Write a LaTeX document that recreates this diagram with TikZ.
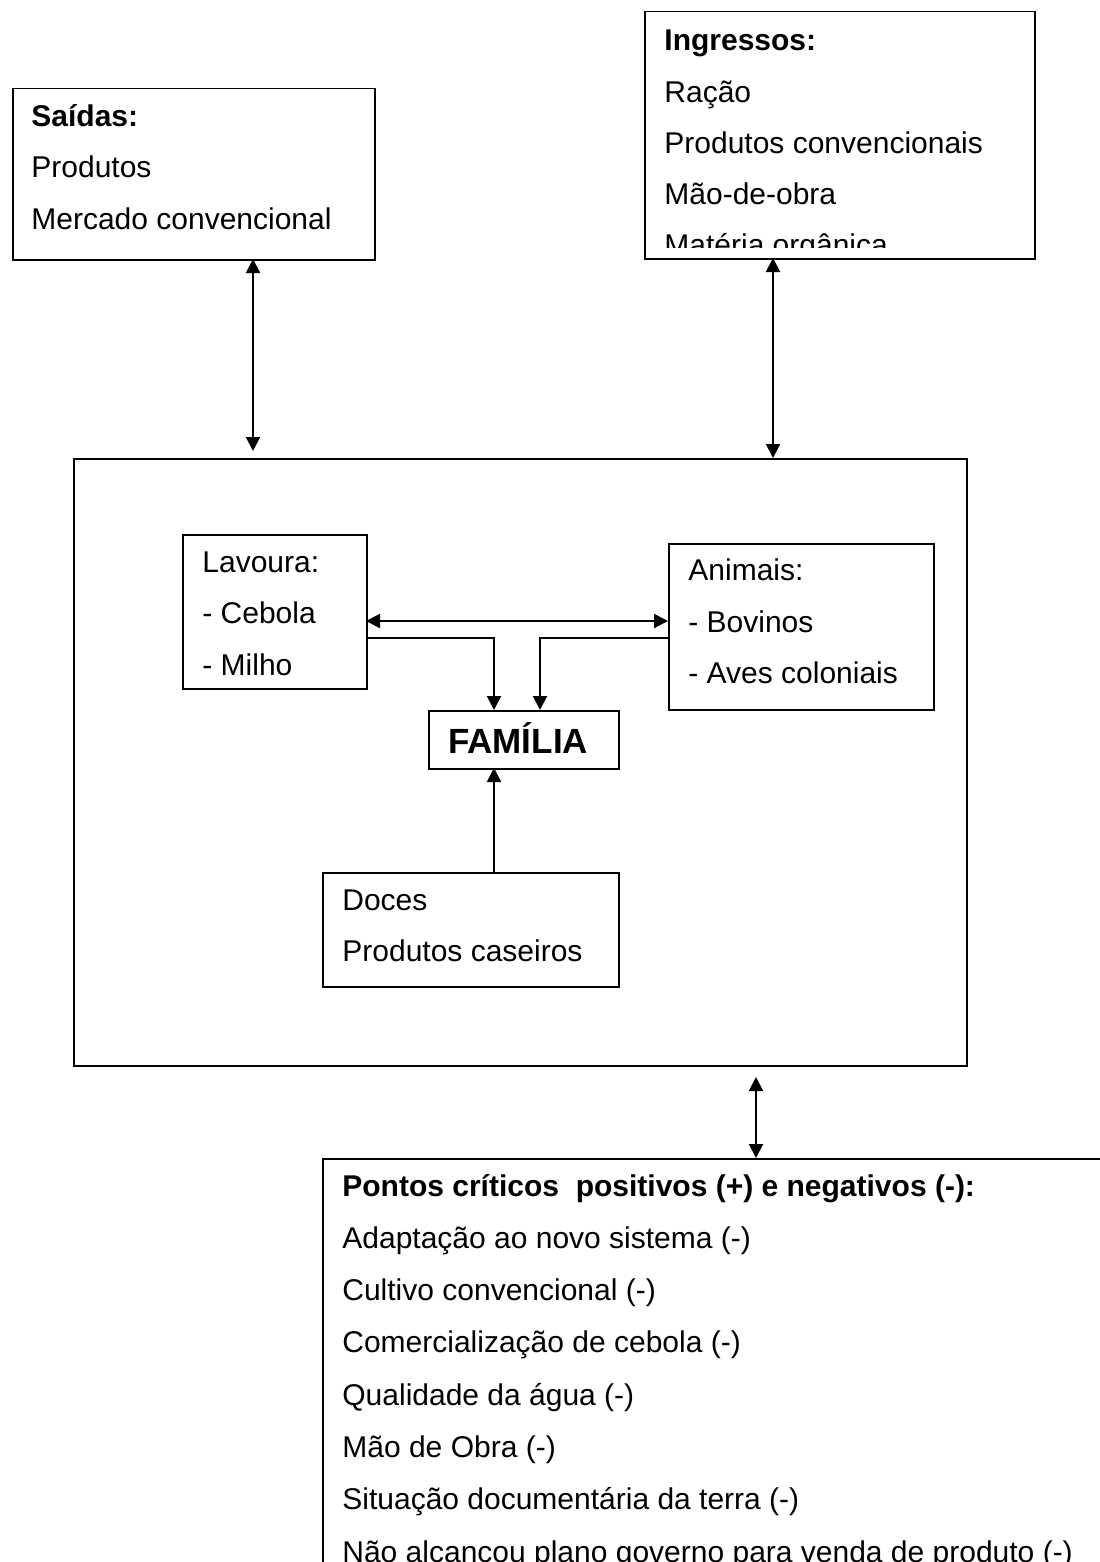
\documentclass[tikz,border=0pt]{standalone}
\usepackage{fontspec}
\setmainfont{Liberation Sans}
\usetikzlibrary{arrows.meta}
\begin{document}
\begin{tikzpicture}[x=0.5pt,y=-0.5pt,
  box/.style={draw,line width=0.75pt,rectangle,inner sep=0pt,anchor=north west},
  txt/.style={anchor=base west,inner sep=0pt,font=\fontsize{15pt}{18pt}\selectfont},
  hd/.style={anchor=base west,inner sep=0pt,font=\fontsize{15pt}{18pt}\selectfont\bfseries},
  tip/.tip={Triangle[length=7pt,width=7pt]},
  link/.style={line width=1pt,-tip},
  dlink/.style={line width=1pt,tip-tip}]
\useasboundingbox (0,0) rectangle (1099,1562);

% --- frames ---
\node[box,minimum width=181pt,minimum height=85.5pt] (saidas) at (12,88) {};
\node[box,minimum width=195pt,minimum height=123.5pt] (ingressos) at (644,11) {};
\node[box,minimum width=446.5pt,minimum height=303.5pt] (sistema) at (73,458) {};
\node[box,minimum width=92pt,minimum height=77pt] (lavoura) at (182,534) {};
\node[box,minimum width=132.5pt,minimum height=83pt] (animais) at (668,543) {};
\node[box,minimum width=95pt,minimum height=29pt] (familia) at (428,710) {};
\node[box,minimum width=148pt,minimum height=57pt] (doces) at (322,872) {};
\node[box,minimum width=420pt,minimum height=230pt] (pontos) at (322,1158) {};

% --- texts ---
\node[hd]  (s0) at (31,127) {Saídas:};
\node[txt] (s1) at (31,178) {Produtos};
\node[txt] (s2) at (31,229) {Mercado convencional};

\begin{scope}
  \clip (644,11) rectangle (1034,248);
  \node[hd]  (i0) at (664,51)  {Ingressos:};
  \node[txt] (i1) at (664,103) {Ração};
  \node[txt] (i2) at (664,154) {Produtos convencionais};
  \node[txt] (i3) at (664,205) {Mão-de-obra};
  \node[txt] (i4) at (664,256) {Matéria orgânica};
\end{scope}

\node[txt] (l0) at (202,572) {Lavoura:};
\node[txt] (l1) at (202,623) {- Cebola};
\node[txt] (l2) at (202,675) {- Milho};

\node[txt] (a0) at (688,580) {Animais:};
\node[txt] (a1) at (688,632) {- Bovinos};
\node[txt] (a2) at (688,683) {- Aves coloniais};

\node[anchor=base,inner sep=0pt,font=\fontsize{17.5pt}{21pt}\selectfont\bfseries]
  (f0) at (518,753) {FAMÍLIA};

\node[txt] (d0) at (342,910) {Doces};
\node[txt] (d1) at (342,961) {Produtos caseiros};

\begin{scope}
  \clip (322,1158) rectangle (1099,1562);
  \node[hd]  (p0) at (342,1196) {Pontos críticos\ \ positivos (+) e negativos (-):};
  \node[txt] (p1) at (342,1248) {Adaptação ao novo sistema (-)};
  \node[txt] (p2) at (342,1300) {Cultivo convencional (-)};
  \node[txt] (p3) at (342,1352) {Comercialização de cebola (-)};
  \node[txt] (p4) at (342,1405) {Qualidade da água (-)};
  \node[txt] (p5) at (342,1457) {Mão de Obra (-)};
  \node[txt] (p6) at (342,1509) {Situação documentária da terra (-)};
  \node[txt] (p7) at (342,1562) {Não alcançou plano governo para venda de produto (-)};
\end{scope}

% --- connector end points ---
\coordinate (sa) at (253,259);
\coordinate (sb) at (253,451);
\coordinate (ia) at (773,258);
\coordinate (ib) at (773,458);
\coordinate (pa) at (756,1077);
\coordinate (pb) at (756,1158);
\coordinate (la) at (366,621);
\coordinate (lb) at (668,621);
\coordinate (lc) at (366,638);
\coordinate (fl) at (494,710);
\coordinate (ac) at (668,638);
\coordinate (fa) at (540,710);
\coordinate (da) at (494,872);
\coordinate (fd) at (494,768);

% --- connectors ---
\draw[dlink] (sa) -- (sb);
\draw[dlink] (ia) -- (ib);
\draw[dlink] (pa) -- (pb);
\draw[dlink] (la) -- (lb);
\draw[link] (lc) -| (fl);
\draw[link] (ac) -| (fa);
\draw[link] (da) -- (fd);
\end{tikzpicture}
\end{document}
